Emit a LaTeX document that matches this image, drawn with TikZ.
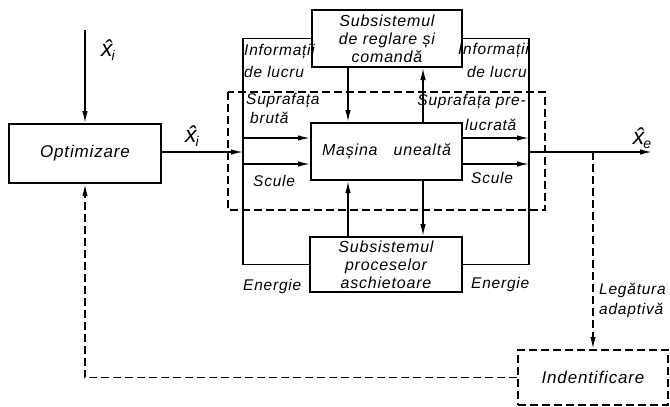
\documentclass[tikz,border=0pt]{standalone}
\usepackage{fontspec}
\setmainfont{Liberation Sans}[LetterSpace=5]
\usetikzlibrary{arrows.meta}
\newcommand{\boxfont}{\fontsize{16}{18}\selectfont\itshape}
\newcommand{\bigboxfont}{\fontsize{17}{19}\selectfont\itshape}
\newcommand{\lblfont}{\fontsize{15.5}{17}\selectfont\itshape}
\newcommand{\hatfont}{\fontsize{23}{23}\selectfont\itshape}
\newcommand{\xhat}[1]{\^{x}\kern-1pt\raisebox{-4pt}{\fontsize{14}{14}\selectfont #1}}
\begin{document}
\begin{tikzpicture}[x=1pt,y=-1pt,
  box/.style={draw,line width=2pt,inner sep=0pt,align=center,font=\boxfont},
  conn/.style={line width=1.4pt},
  arr/.style={conn,-{Latex[length=12pt,width=5.5pt]}},
  dsh/.style={dash pattern=on 8pt off 4pt},
  lbl/.style={inner sep=0pt,font=\lblfont},
  hatl/.style={inner sep=0pt,font=\hatfont}]
\useasboundingbox (0,0) rectangle (670,407);

\node[box,font=\bigboxfont,minimum width=152pt,minimum height=59pt] (opt) at (85,153.5) {Optimizare};
\node[box,minimum width=150pt,minimum height=57pt] (top) at (387,38.5) {Subsistemul\\de reglare și\\comandă};
\node[box,minimum width=151pt,minimum height=57pt] (mas) at (386.5,151.5) {Mașina\quad unealtă};
\node[box,minimum width=152pt,minimum height=55pt] (bot) at (386,264.5) {Subsistemul\\proceselor\\aschietoare};
\node[box,dsh,font=\bigboxfont,minimum width=150pt,minimum height=55pt] (ide) at (593,377.5) {Indentificare};

\draw[line width=1.5pt,dsh] (228,92) rectangle (545,210);

\coordinate (inx) at (85,30);
\coordinate (lb) at (243,152);
\coordinate (rb) at (529,152);
\coordinate (out) at (652,152);
\coordinate (br) at (593,152);
\coordinate (ya) at (0,138);
\coordinate (yb) at (0,164);
\coordinate (xa) at (348,0);
\coordinate (xb) at (423,0);

\draw[arr] (inx) -- (opt.north);
\draw[arr] (opt.east|-lb) -- (lb);
\draw[conn] (top.west) -| (lb) |- (bot.west);
\draw[conn] (top.east) -| (rb) |- (bot.east);
\draw[arr] (lb|-ya) -- (mas.west|-ya);
\draw[arr] (lb|-yb) -- (mas.west|-yb);
\draw[arr] (mas.east|-ya) -- (rb|-ya);
\draw[arr] (mas.east|-yb) -- (rb|-yb);
\draw[arr] (rb) -- (out);
\draw[arr,dsh,line width=1.5pt] (br) -- (ide.north);
\draw[arr,dsh,line width=1.5pt] (ide.west) -| (opt.south);

\draw[arr] (top.south-|xa) -- (mas.north-|xa);
\draw[arr] (mas.north-|xb) -- (top.south-|xb);
\draw[arr] (bot.north-|xa) -- (mas.south-|xa);
\draw[arr] (mas.south-|xb) -- (bot.north-|xb);

\node[hatl] (xi1) at (108,50) {\xhat{i}};
\node[hatl] (xi2) at (192,136) {\xhat{i}};
\node[hatl] (xe) at (642,138) {\xhat{e}};

\node[lbl,anchor=west] (il1) at (244,52) {Informații};
\node[lbl,anchor=west] (il2) at (244,72) {de lucru};
\node[lbl,anchor=east] (ir1) at (529,51) {Informații};
\node[lbl,anchor=east] (ir2) at (527,72) {de lucru};
\node[lbl,anchor=west] (sl1) at (246,101) {Suprafața};
\node[lbl,anchor=west] (sl2) at (250,118) {brută};
\node[lbl,anchor=east] (sr1) at (526,102) {Suprafața pre-};
\node[lbl,anchor=west] (sr2) at (465,125) {lucrată};
\node[lbl,anchor=west] (cl) at (253,181) {Scule};
\node[lbl,anchor=west] (cr) at (471,178) {Scule};
\node[lbl,anchor=west] (el) at (243,286) {Energie};
\node[lbl,anchor=west] (er) at (471,284) {Energie};
\node[lbl,anchor=west] (la1) at (599,290) {Legătura};
\node[lbl,anchor=west] (la2) at (599,310) {adaptivă};
\end{tikzpicture}
\end{document}
